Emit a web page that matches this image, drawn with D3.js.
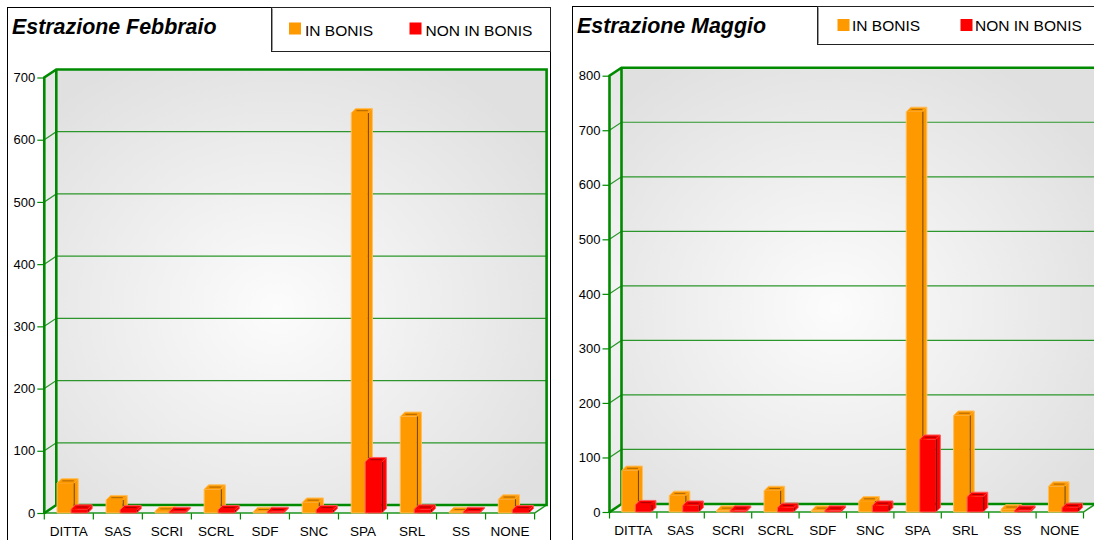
<!DOCTYPE html>
<html>
<head>
<meta charset="utf-8">
<script src="https://cdn.jsdelivr.net/npm/d3@7"></script>
<style>
  html, body { margin: 0; padding: 0; background: #fff; overflow: hidden; }
  svg { display: block; font-family: "Liberation Sans", Arial, sans-serif; }
</style>
</head>
<body>
<svg id="chart" width="1094" height="540"></svg>
<script>
// Categories (legal form) and the two series shown in each extraction
const categories = ["DITTA", "SAS", "SCRI", "SCRL", "SDF", "SNC", "SPA", "SRL", "SS", "NONE"];
const seriesNames = ["IN BONIS", "NON IN BONIS"];
const seriesColors = ["#ff9900", "#ff0000"];
const seriesEdge = ["#ffbf5c", "#ff5c5c"];
const seriesDark = ["#7a4800", "#6e0000"];

// February extraction
const febInBonis    = [48, 21, 3, 38, 2, 17, 643, 155, 2, 22];
const febNonInBonis = [6, 5, 2, 5, 2, 5, 82, 6, 2, 5];
const febTicks = [0, 100, 200, 300, 400, 500, 600, 700];

// May extraction
const magInBonis    = [76, 30, 3, 39, 3, 20, 734, 177, 5, 47];
const magNonInBonis = [13, 12, 3, 8, 3, 12, 133, 28, 3, 8];
const magTicks = [0, 100, 200, 300, 400, 500, 600, 700, 800];

const panels = [
  {
    title: "Estrazione Febbraio",
    values: [febInBonis, febNonInBonis],
    ticks: febTicks,
    frame: { x: 7.5, y: 7.5 },
    titlePos: [12, 33.5],
    legend: { x: 271.5, y: 7.5, w: 279, h: 44, sw: [17.5, 138], swY: 15, textY: 35.5, textGap: 16 },
    xRange: [44.3, 534.6],
    yRange: [513, 77.5]
  },
  {
    title: "Estrazione Maggio",
    values: [magInBonis, magNonInBonis],
    ticks: magTicks,
    frame: { x: 572.5, y: 6.5 },
    titlePos: [577, 32.5],
    legend: { x: 817.5, y: 6.5, w: 300, h: 38, sw: [20, 143], swY: 12.5, textY: 31, textGap: 14.5 },
    xRange: [609.5, 1083.5],
    yRange: [512, 75.7]
  }
];

const DX = 12, DY = 8;      // depth of the plot box
const BD = 4.5;             // depth of each bar
const GREEN = "#008a00";

const svg = d3.select("#chart");
const defs = svg.append("defs");

const wallGrad = defs.append("radialGradient")
  .attr("id", "wallGrad").attr("cx", "45%").attr("cy", "55%").attr("r", "65%");
wallGrad.append("stop").attr("offset", "0%").attr("stop-color", "#fcfcfc");
wallGrad.append("stop").attr("offset", "100%").attr("stop-color", "#e0e0e0");

const sideGrad = defs.append("linearGradient")
  .attr("id", "sideGrad").attr("x1", "0").attr("x2", "0").attr("y1", "0").attr("y2", "1");
sideGrad.append("stop").attr("offset", "0%").attr("stop-color", "#e6e6e6");
sideGrad.append("stop").attr("offset", "50%").attr("stop-color", "#f4f4f4");
sideGrad.append("stop").attr("offset", "100%").attr("stop-color", "#e8e8e8");

const pts = a => a.map(p => p.join(",")).join(" ");

panels.forEach(p => {
  const g = svg.append("g");

  // outer frame
  g.append("rect")
    .attr("x", p.frame.x).attr("y", p.frame.y)
    .attr("width", 543).attr("height", 600)
    .attr("fill", "#fff").attr("stroke", "#000").attr("stroke-width", 1);

  // title
  g.append("text")
    .attr("x", p.titlePos[0]).attr("y", p.titlePos[1])
    .attr("font-size", 21.4).attr("font-weight", "bold").attr("font-style", "italic")
    .attr("fill", "#000")
    .text(p.title);

  // legend
  const L = p.legend;
  g.append("rect")
    .attr("x", L.x).attr("y", L.y).attr("width", L.w).attr("height", L.h)
    .attr("fill", "#fff").attr("stroke", "#222").attr("stroke-width", 1);
  g.append("path")
    .attr("d", `M${L.x + 1},${L.y + 1}V${L.y + L.h - 1}`)
    .attr("stroke", "#999").attr("stroke-width", 1);
  seriesNames.forEach((name, i) => {
    g.append("rect")
      .attr("x", L.x + L.sw[i]).attr("y", L.y + L.swY)
      .attr("width", 12).attr("height", 12)
      .attr("fill", seriesColors[i]);
    g.append("text")
      .attr("x", L.x + L.sw[i] + L.textGap).attr("y", L.textY)
      .attr("font-size", 15.5).attr("fill", "#000")
      .text(name);
  });

  // scales
  const x = d3.scaleBand().domain(categories).range(p.xRange).paddingInner(0).paddingOuter(0);
  const maxV = p.ticks[p.ticks.length - 1];
  const y = d3.scaleLinear().domain([0, maxV]).range(p.yRange);
  const x0 = p.xRange[0], x1 = p.xRange[1];
  const y0 = y(0), yT = y(maxV);

  // walls and floor
  g.append("rect")
    .attr("x", x0 + DX).attr("y", yT - DY)
    .attr("width", x1 - x0).attr("height", y0 - yT)
    .attr("fill", "url(#wallGrad)");
  g.append("polygon")
    .attr("points", pts([[x0, yT], [x0 + DX, yT - DY], [x0 + DX, y0 - DY], [x0, y0]]))
    .attr("fill", "url(#sideGrad)");
  g.append("polygon")
    .attr("points", pts([[x0, y0], [x0 + DX, y0 - DY], [x1 + DX, y0 - DY], [x1, y0]]))
    .attr("fill", "#f3f3f3");

  // gridlines across side wall and back wall
  p.ticks.filter(t => t > 0 && t < maxV).forEach(t => {
    g.append("polyline")
      .attr("points", pts([[x0, y(t)], [x0 + DX, y(t) - DY], [x1 + DX, y(t) - DY]]))
      .attr("fill", "none").attr("stroke", "#2c962c").attr("stroke-width", 1.2);
  });

  // y axis ticks and labels
  const yAxis = d3.axisLeft(y).tickValues(p.ticks).tickSize(7).tickPadding(2).tickFormat(d3.format("d"));
  const ya = g.append("g").attr("transform", `translate(${x0},0)`).call(yAxis);
  ya.select(".domain").remove();
  ya.selectAll(".tick line").attr("stroke", GREEN).attr("stroke-width", 1.2);
  ya.selectAll(".tick text").attr("font-size", 13).attr("fill", "#000")
    .attr("font-family", "Liberation Sans, Arial, sans-serif");

  // x axis ticks at band boundaries and category labels
  const xAxis = d3.axisBottom(x).tickSize(0).tickPadding(13.5);
  const xa = g.append("g").attr("transform", `translate(0,${y0})`).call(xAxis);
  xa.select(".domain").remove();
  xa.selectAll(".tick text").attr("font-size", 13.5).attr("fill", "#000")
    .attr("font-family", "Liberation Sans, Arial, sans-serif");
  const bounds = categories.map(c => x(c)).concat([x1]);
  g.selectAll(null).data(bounds).enter().append("line")
    .attr("x1", d => d).attr("x2", d => d)
    .attr("y1", y0).attr("y2", y0 + 6.5)
    .attr("stroke", GREEN).attr("stroke-width", 1.2);

  // floor front edge and right diagonal (thin)
  g.append("polyline")
    .attr("points", pts([[x0, y0], [x1, y0], [x1 + DX, y0 - DY]]))
    .attr("fill", "none").attr("stroke", "#1e961e").attr("stroke-width", 1.5);

  // box frame (thick)
  g.append("polyline")
    .attr("points", pts([[x0, y0 + 0.5], [x0, yT], [x0 + DX, yT - DY], [x1 + DX, yT - DY], [x1 + DX, y0 - DY], [x0 + DX, y0 - DY], [x0 + DX, yT - DY]]))
    .attr("fill", "none").attr("stroke", GREEN).attr("stroke-width", 2.6)
    .attr("stroke-linejoin", "miter");
  g.append("line")
    .attr("x1", x0 - 0.5).attr("x2", x0 + DX).attr("y1", y0 + 0.5).attr("y2", y0 - DY)
    .attr("stroke", GREEN).attr("stroke-width", 2.6);

  // 3D bars
  const bw = x.bandwidth();
  categories.forEach((c, ci) => {
    seriesNames.forEach((s, si) => {
      const v = p.values[si][ci];
      const bx = x(c) + bw * (0.26 + si * 0.285);
      const w = bw * 0.34;
      const yt = y(v), yb = y(0);
      const col = seriesColors[si];
      const bar = g.append("g");
      // side face
      bar.append("polygon")
        .attr("points", pts([[bx + w, yt], [bx + w + BD, yt - BD], [bx + w + BD, yb - BD], [bx + w, yb]]))
        .attr("fill", col);
      // top face
      bar.append("polygon")
        .attr("points", pts([[bx, yt], [bx + BD, yt - BD], [bx + w + BD, yt - BD], [bx + w, yt]]))
        .attr("fill", col);
      // front face
      bar.append("rect")
        .attr("x", bx).attr("y", yt).attr("width", w).attr("height", yb - yt)
        .attr("fill", col);
      // light outline around the silhouette
      bar.append("polygon")
        .attr("points", pts([[bx, yb], [bx, yt], [bx + BD, yt - BD], [bx + w + BD, yt - BD], [bx + w + BD, yb - BD], [bx + w, yb]]))
        .attr("fill", "none").attr("stroke", seriesEdge[si]).attr("stroke-width", 1);
      // dark inner edges
      if (yb - yt > 3) {
        bar.append("line")
          .attr("x1", bx + w + 0.5).attr("x2", bx + w + 0.5)
          .attr("y1", yt).attr("y2", yb - 1.5)
          .attr("stroke", seriesDark[si]).attr("stroke-width", 1.1);
      }
      bar.append("line")
        .attr("x1", bx + BD / 2 + 3).attr("x2", bx + w)
        .attr("y1", yt - BD / 2).attr("y2", yt - BD / 2)
        .attr("stroke", seriesDark[si]).attr("stroke-width", 0.9).attr("stroke-opacity", 0.7);
    });
  });
});
</script>
</body>
</html>
